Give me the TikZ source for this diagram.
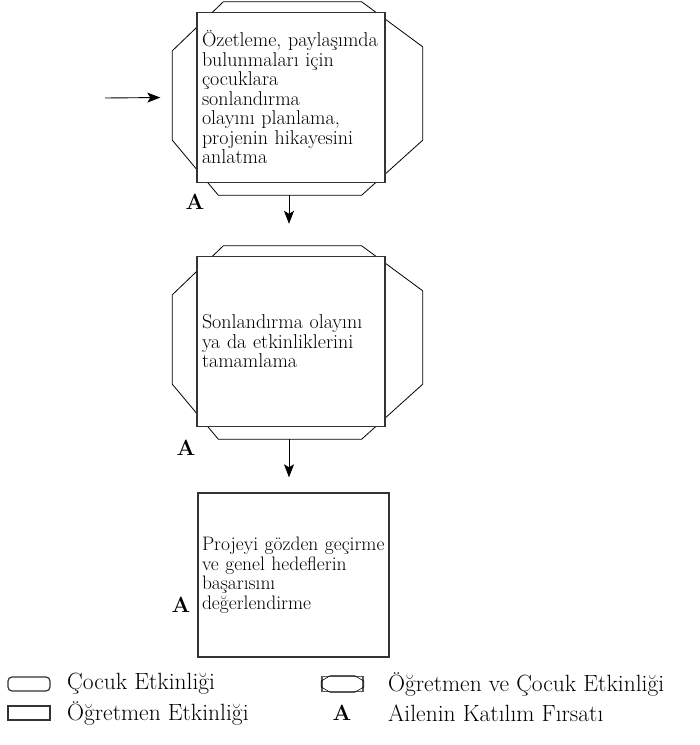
\documentclass[tikz,border=0pt]{standalone}
\usepackage{fontspec}
\usetikzlibrary{arrows.meta,backgrounds}

\tikzset{
	etkinlik/.style={rectangle,draw=black!80,line width=1.4pt,fill=white,minimum width=187pt,minimum height=170pt,text width=178pt,align=left,inner sep=5pt,font=\fontsize{20}{19.5}\selectfont},
	ok/.style={-{Stealth[length=13pt,width=10pt,inset=3pt]},line width=0.9pt},
	cerceve/.style={draw,line width=0.8pt},
	aile/.style={inner sep=0pt,font=\fontsize{22}{22}\selectfont\bfseries},
	aciklama/.style={anchor=west,inner sep=0pt,font=\fontsize{23.5}{23.5}\selectfont},
	simge/.style={rectangle,draw=black!80,line width=1.2pt,minimum width=42pt,minimum height=14pt,inner sep=0pt},
}
\newcommand{\sekizgen}[1]{%
	\draw[cerceve] ([shift={(27,-10)}]#1.north west) -- ([shift={(-24,-10)}]#1.north east) -- ([shift={(37,35)}]#1.north east) -- ([shift={(37,-43)}]#1.south east) -- ([shift={(-24,12)}]#1.south east) -- ([shift={(22,12)}]#1.south west) -- ([shift={(-24,-43)}]#1.south west) -- ([shift={(-24,39)}]#1.north west) -- cycle;}

\begin{document}
\begin{tikzpicture}[x=1pt,y=-1pt]
	\useasboundingbox (0,0) rectangle (700,745);
	\node[etkinlik] (kutu1) at (291,97.5) {\mbox{Özetleme, paylaşımda}\\ bulunmaları için\\ çocuklara\\ sonlandırma\\ olayını planlama,\\ projenin hikayesini\\ anlatma};
	\node[etkinlik] (kutu2) at (291,341.5) {Sonlandırma olayını\\ ya da etkinliklerini\\ tamamlama};
	\node[etkinlik,minimum width=191pt,minimum height=164pt,text width=183pt,inner sep=4pt,font=\fontsize{19.5}{19.5}\selectfont] (kutu3) at (293.5,575) {\mbox{Projeyi gözden geçirme}\\ ve genel hedeflerin\\ başarısını\\ değerlendirme};
	\begin{scope}[on background layer]
		\sekizgen{kutu1}
		\sekizgen{kutu2}
	\end{scope}
	\coordinate (giris) at (105,98);
	\draw[ok] (giris) -- ([xshift=-36pt]kutu1.west);
	\draw[ok] ([shift={(-2,12)}]kutu1.south) -- ([shift={(-2,-32)}]kutu1.south |- kutu2.north);
	\draw[ok] ([shift={(-2,12)}]kutu2.south) -- ([shift={(-2,-15)}]kutu2.south |- kutu3.north);
	\node[aile] (a1) at (195,202) {A};
	\node[aile] (a2) at (186,448) {A};
	\node[aile] (a3) at (181,605) {A};
	\node[simge,rounded corners=4pt] (s1) at (29,684) {};
	\node[aciklama] (t1) at (67,684) {Çocuk Etkinliği};
	\node[simge] (s2) at (29,713) {};
	\node[aciklama] (t2) at (67,713) {Öğretmen Etkinliği};
	\node[simge,draw=black!65,line width=1.6pt,minimum width=41pt,minimum height=15pt] (s3) at (342.5,684) {};
	\draw[line width=0.6pt] ([shift={(9,0)}]s3.north west) -- ([shift={(-9,0)}]s3.north east) -- ([shift={(0,-3)}]s3.east) -- ([shift={(0,3)}]s3.east) -- ([shift={(-9,0)}]s3.south east) -- ([shift={(9,0)}]s3.south west) -- ([shift={(0,3)}]s3.west) -- ([shift={(0,-3)}]s3.west) -- cycle;
	\node[aciklama] (t3) at (388,684) {Öğretmen ve Çocuk Etkinliği};
	\node[aile] (s4) at (342,713) {A};
	\node[aciklama] (t4) at (388,713) {Ailenin Katılım Fırsatı};
\end{tikzpicture}
\end{document}
